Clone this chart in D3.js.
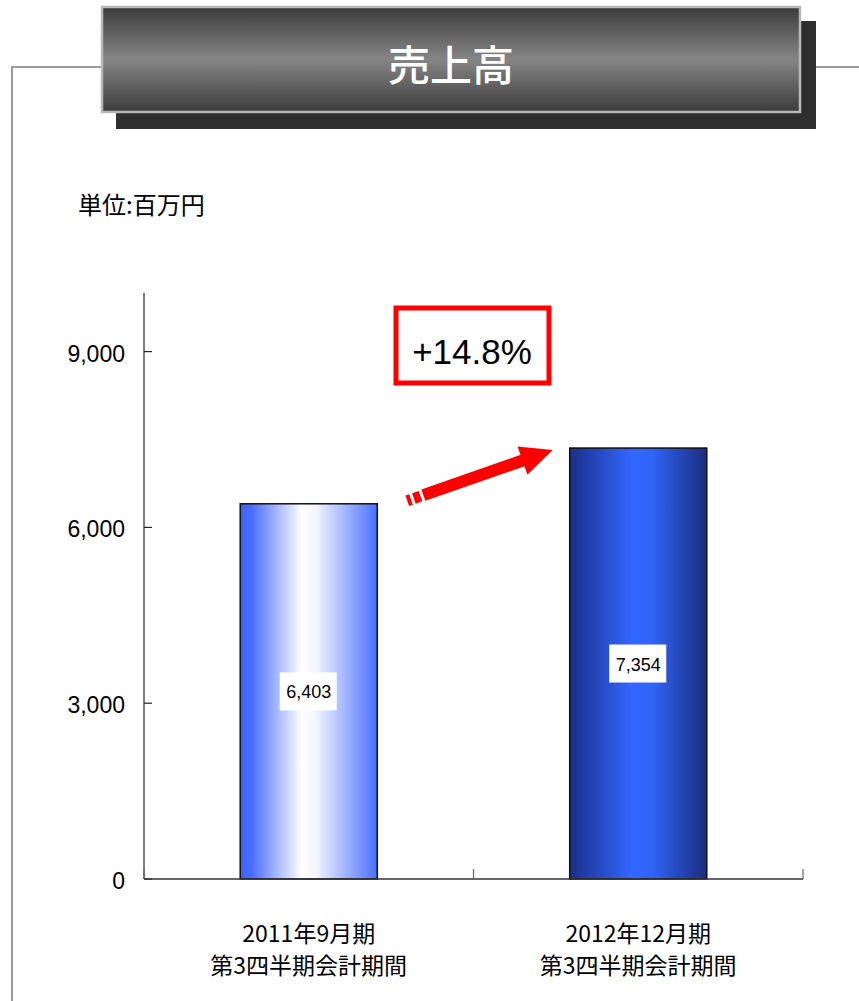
<!DOCTYPE html>
<html><head><meta charset="utf-8">
<script src="https://cdn.jsdelivr.net/npm/d3@7"></script>
<style>body{margin:0;background:#fff;} svg{display:block;}</style>
</head><body>
<script>
const categories = ["2011年9月期\n第3四半期会計期間", "2012年12月期\n第3四半期会計期間"];
const values = [6403, 7354];
const valueLabels = ["6,403", "7,354"];
const yTicks = [0, 3000, 6000, 9000];
const title = "売上高";
const unitLabel = "単位:百万円";
const growthLabel = "+14.8%";

const W = 859, H = 1001;
const svg = d3.select("body").append("svg").attr("width", W).attr("height", H);
const defs = svg.append("defs");

const tg = defs.append("linearGradient").attr("id","tg").attr("x1",0).attr("y1",0).attr("x2",0).attr("y2",1);
tg.append("stop").attr("offset","0%").attr("stop-color","#3c3c3c");
tg.append("stop").attr("offset","50%").attr("stop-color","#858585");
tg.append("stop").attr("offset","100%").attr("stop-color","#3c3c3c");

const g1 = defs.append("linearGradient").attr("id","g1").attr("x1",0).attr("y1",0).attr("x2",1).attr("y2",0);
g1.append("stop").attr("offset","0%").attr("stop-color","#3a60ff");
g1.append("stop").attr("offset","8%").attr("stop-color","#4a6cff");
g1.append("stop").attr("offset","45%").attr("stop-color","#ffffff");
g1.append("stop").attr("offset","55%").attr("stop-color","#f4f6ff");
g1.append("stop").attr("offset","100%").attr("stop-color","#4a6eff");

const g2 = defs.append("linearGradient").attr("id","g2").attr("x1",0).attr("y1",0).attr("x2",1).attr("y2",0);
g2.append("stop").attr("offset","0%").attr("stop-color","#1b2f86");
g2.append("stop").attr("offset","45%").attr("stop-color","#3366ff");
g2.append("stop").attr("offset","60%").attr("stop-color","#3064f8");
g2.append("stop").attr("offset","100%").attr("stop-color","#1a2d7e");

svg.append("path").attr("d","M12,1001 L12,67 L103,67 M815,67 L859,67")
  .attr("fill","none").attr("stroke","#9a9a9a").attr("stroke-width",2);

svg.append("rect").attr("x",116).attr("y",21).attr("width",700).attr("height",108).attr("fill","#2e2e2e");
svg.append("rect").attr("x",102).attr("y",7).attr("width",698).attr("height",105).attr("fill","url(#tg)")
  .attr("stroke","#b8b8b8").attr("stroke-width",2.5);
svg.append("text").attr("x",451).attr("y",62).attr("text-anchor","middle").attr("dominant-baseline","central")
  .attr("fill","#fff").attr("font-family","Noto Sans CJK JP").attr("font-size",42).attr("font-weight",500).text(title);

svg.append("text").attr("x",78).attr("y",203).attr("dominant-baseline","central")
  .attr("font-family","Noto Sans CJK JP").attr("font-size",24).attr("fill","#000").text(unitLabel);

const x = d3.scaleBand().domain(categories).range([144, 803]).paddingInner(0.584).paddingOuter(0.292);
const y = d3.scaleLinear().domain([0, 10000]).range([879, 293]);

const fills = ["url(#g1)", "url(#g2)"];
svg.selectAll("rect.bar").data(values).join("rect").attr("class","bar")
  .attr("x",(d,i)=>x(categories[i])).attr("y",d=>y(d))
  .attr("width",x.bandwidth()).attr("height",d=>y(0)-y(d))
  .attr("fill",(d,i)=>fills[i]).attr("stroke","#111").attr("stroke-width",1.5);

values.forEach((v,i)=>{
  const cx = x(categories[i]) + x.bandwidth()/2;
  const cy = (y(v)+y(0))/2;
  svg.append("rect").attr("x",cx-29).attr("y",cy-19).attr("width",57).attr("height",38).attr("fill","#fff");
  svg.append("text").attr("x",cx).attr("y",cy+1).attr("text-anchor","middle").attr("dominant-baseline","central")
    .attr("font-family","Liberation Sans, Arial").attr("font-size",18).attr("fill","#000").text(valueLabels[i]);
});

const yAxis = svg.append("g").attr("transform","translate(144,0)");
yAxis.append("line").attr("x1",0).attr("x2",0).attr("y1",y(10000)).attr("y2",y(0)).attr("stroke","#555").attr("stroke-width",1.5);
yAxis.selectAll("line.t").data(yTicks).join("line").attr("class","t")
  .attr("x1",0).attr("x2",8).attr("y1",d=>y(d)).attr("y2",d=>y(d)).attr("stroke","#222").attr("stroke-width",1.2);
yAxis.selectAll("text").data(yTicks).join("text")
  .attr("x",-19).attr("y",d=>y(d)+2).attr("text-anchor","end").attr("dominant-baseline","central")
  .attr("font-family","Liberation Sans, Arial").attr("font-size",23).attr("fill","#000")
  .text(d=>d3.format(",")(d));

const xAxis = svg.append("g");
xAxis.append("line").attr("x1",144).attr("x2",803).attr("y1",y(0)).attr("y2",y(0)).attr("stroke","#333").attr("stroke-width",1.5);
const bounds = [144, x(categories[1]) - x.step()*0.292, 803];
xAxis.selectAll("line.t").data(bounds).join("line").attr("class","t")
  .attr("x1",d=>d).attr("x2",d=>d).attr("y1",y(0)).attr("y2",y(0)-10).attr("stroke","#666").attr("stroke-width",1.2);

categories.forEach((c,i)=>{
  const cx = x(c) + x.bandwidth()/2;
  c.split("\n").forEach((line,j)=>{
    svg.append("text").attr("x",cx).attr("y",932 + j*32).attr("text-anchor","middle").attr("dominant-baseline","central")
      .attr("font-family","Noto Sans CJK JP").attr("font-size",23).attr("fill","#000").text(line);
  });
});

svg.append("rect").attr("x",396).attr("y",308).attr("width",153).attr("height",75)
  .attr("fill","#fff").attr("stroke","#ff0000").attr("stroke-width",5);
svg.append("text").attr("x",472).attr("y",351).attr("text-anchor","middle").attr("dominant-baseline","central")
  .attr("font-family","Liberation Sans, Arial").attr("font-size",35).attr("fill","#000").text(growthLabel);

const x0 = x(categories[0]) + x.bandwidth() + 30, y0 = y(values[0]) - 3;
const x1 = x(categories[1]) - 17, y1 = y(values[1]) + 2;
const ang = Math.atan2(y1-y0, x1-x0);
const ag = svg.append("g").attr("transform",`translate(${x0},${y0}) rotate(${ang*180/Math.PI})`);
const len = Math.hypot(x1-x0, y1-y0);
ag.append("rect").attr("x",0).attr("y",-5.5).attr("width",4).attr("height",11).attr("fill","#ff0000");
ag.append("rect").attr("x",7).attr("y",-5.5).attr("width",7).attr("height",11).attr("fill","#ff0000");
ag.append("rect").attr("x",17).attr("y",-6).attr("width",len-45).attr("height",12).attr("fill","#ff0000");
ag.append("path").attr("d",`M${len-32},-15 L${len},0 L${len-32},15 Z`).attr("fill","#ff0000");
</script>
</body></html>
